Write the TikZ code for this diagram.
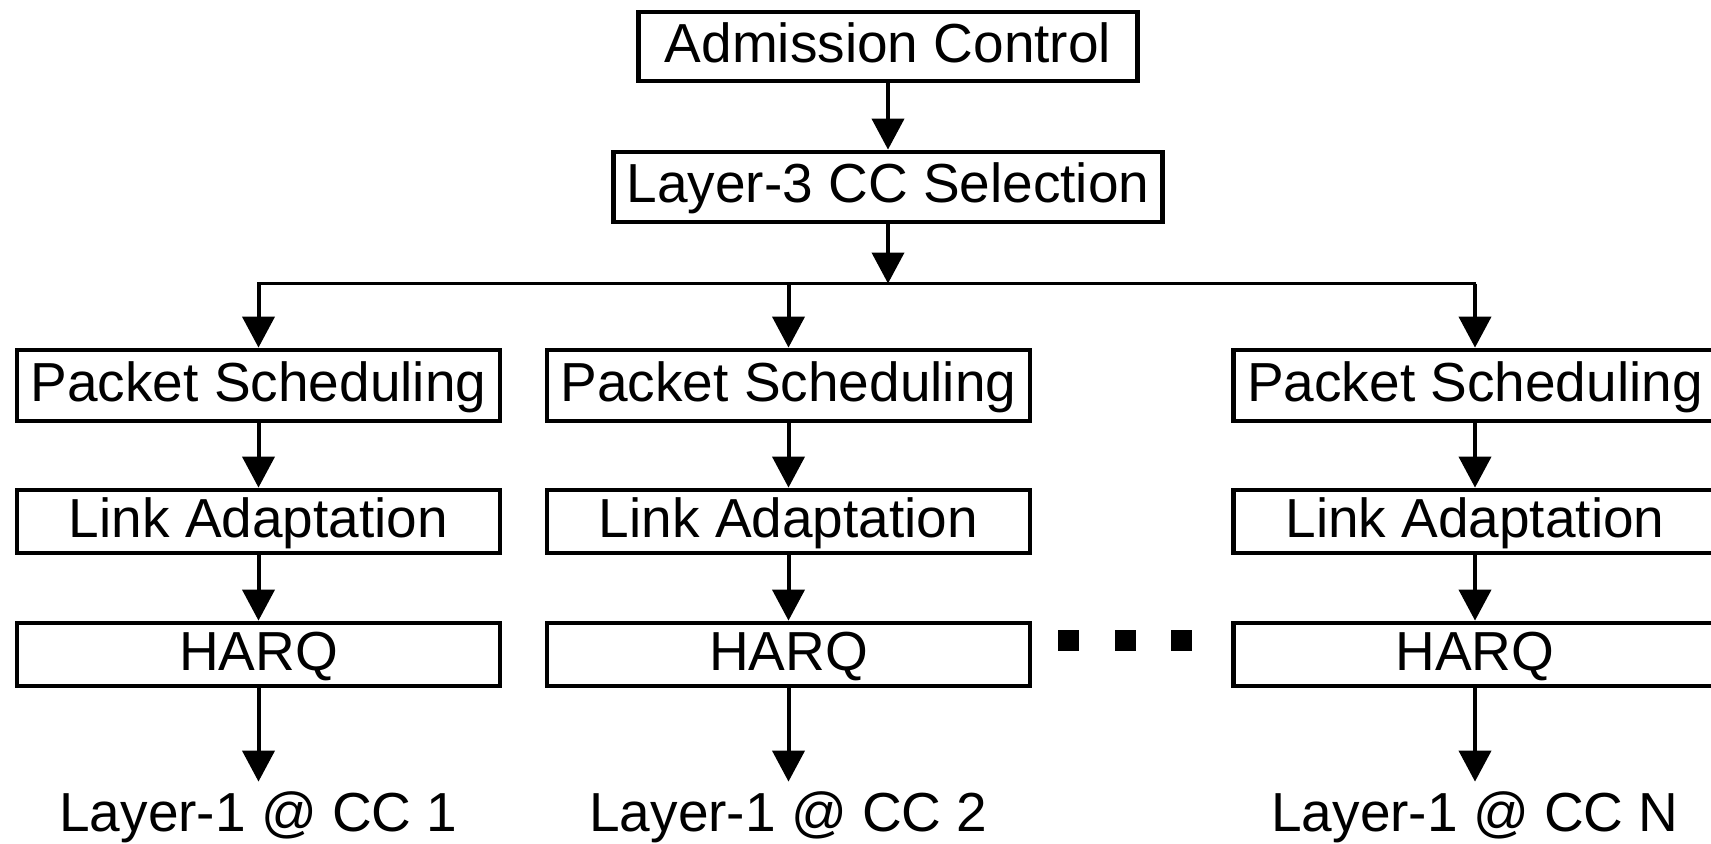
\documentclass[tikz,border=0pt]{standalone}
\usepackage{fontspec}
\setmainfont{Liberation Sans}
\usetikzlibrary{arrows.meta}

\begin{document}
\begin{tikzpicture}
[x=0.5pt,y=-0.5pt,%
  darkArrow/.style={-{Triangle[width=16pt,length=15.5pt]},line width=2pt},%
  splitLine/.style={line width=1.4pt,line cap=rect},%
  boxDecorate/.style={draw,line width=2.4pt,inner sep=0pt,minimum width=241.5pt,%
    minimum height=31.5pt,text height=20pt,text depth=4.5pt},%
  layerLabel/.style={inner sep=4.5pt,text height=20pt,text depth=4.5pt,anchor=base},%
  font=\fontsize{27.5}{33}\selectfont]
\useasboundingbox (0,0) rectangle (1711,843);
%% common part
\node (adm) at (888,46.5) [boxDecorate,minimum width=249.5pt,minimum height=34.5pt] {Admission Control};
\node (sel) at (888,187) [boxDecorate,minimum width=274.5pt,minimum height=35pt] {Layer-3 CC Selection};
\coordinate (split) at (888,283.5);
%% one column per component carrier
\foreach \cc/\x in {1/258.5, 2/788.5, N/1475}
{
  \node (ps\cc) at (\x,385.5) [boxDecorate,minimum height=35.5pt] {Packet Scheduling};
  \node (la\cc) at (\x,521.5) [boxDecorate] {Link Adaptation};
  \node (harq\cc) at (\x,654.5) [boxDecorate] {HARQ};
  \node (phy\cc) at (\x,831) [layerLabel] {Layer-1 @ CC \cc};
  \coordinate (tap\cc) at (split -| ps\cc);
}
%% dots between the columns
\foreach \dx in {1068, 1125, 1181}
{
  \fill (\dx-10.5,630) rectangle (\dx+10.5,651);
}
%% connectors
\draw[splitLine] (tap1) -- (tapN);
\path
\foreach \startnode/\endnode in {adm/sel, sel/split}
{
  (\startnode) edge[darkArrow] (\endnode)
}
\foreach \cc in {1, 2, N}
{
  (tap\cc) edge[darkArrow] (ps\cc)
  (ps\cc) edge[darkArrow] (la\cc)
  (la\cc) edge[darkArrow] (harq\cc)
  (harq\cc) edge[darkArrow] (phy\cc)
};
\end{tikzpicture}
\end{document}
